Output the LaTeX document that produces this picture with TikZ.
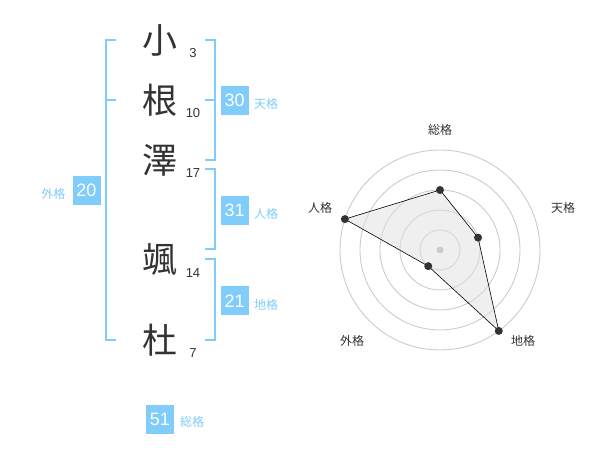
\documentclass[tikz,border=0pt]{standalone}
\usepackage{fontspec}
\usetikzlibrary{calc}
\setmainfont{Liberation Sans}
\newfontfamily\jp{Noto Sans CJK JP}
\definecolor{kblue}{RGB}{128,204,250}
\definecolor{ktext}{RGB}{51,51,51}
\definecolor{kring}{RGB}{204,204,204}
\tikzset{
  brk/.style={draw=kblue, line width=2pt},
  kanji/.style={font=\jp\fontsize{35}{35}\selectfont, text=ktext, inner sep=0},
  stroke/.style={font=\fontsize{13}{13}\selectfont, text=ktext, inner sep=0},
  vbox/.style={fill=kblue, text=white, minimum width=28pt, minimum height=29pt, inner sep=0, font=\fontsize{18}{18}\selectfont},
  vlab/.style={text=kblue, inner sep=0, font=\jp\fontsize{12}{12}\selectfont},
  ring/.style={draw=kring, line width=0.9pt},
  rlab/.style={text=ktext, inner sep=0, font=\jp\fontsize{12}{12}\selectfont},
  dot/.style={circle, fill=ktext, inner sep=0, minimum size=8pt},
}
\begin{document}
\begin{tikzpicture}[x=1pt, y=-1pt]
\path[use as bounding box, fill=white] (0,0) rectangle (600,470);
% name characters
\node[kanji] (c1) at (160,40) {小};
\node[kanji] (c2) at (160,100) {根};
\node[kanji] (c3) at (160,160) {澤};
\node[kanji] (c4) at (160,260) {颯};
\node[kanji] (c5) at (160,340) {杜};
\node[stroke] (s1) at (193,52.7) {3};
\node[stroke] (s2) at (193,112.7) {10};
\node[stroke] (s3) at (193,172.7) {17};
\node[stroke] (s4) at (193,272.7) {14};
\node[stroke] (s5) at (193,352.7) {7};
% brackets
\coordinate (la) at (116,40);
\coordinate (lb) at (106,40);
\coordinate (lc) at (106,340);
\coordinate (ld) at (116,340);
\coordinate (lm1) at (106,100);
\coordinate (lm2) at (116,100);
\draw[brk] (la) -- (lb) -- (lc) -- (ld);
\draw[brk] (lm1) -- (lm2);
\coordinate (ta) at (205,40);
\coordinate (tb) at (215,40);
\coordinate (tc) at (215,160);
\coordinate (td) at (205,160);
\coordinate (tm1) at (205,100);
\coordinate (tm2) at (215,100);
\draw[brk] (ta) -- (tb) -- (tc) -- (td);
\draw[brk] (tm1) -- (tm2);
\coordinate (ja) at (205,169.5);
\coordinate (jb) at (215,169.5);
\coordinate (jc) at (215,249.5);
\coordinate (jd) at (205,249.5);
\draw[brk] (ja) -- (jb) -- (jc) -- (jd);
\coordinate (ca) at (205,259.5);
\coordinate (cb) at (215,259.5);
\coordinate (cc) at (215,340);
\coordinate (cd) at (205,340);
\draw[brk] (ca) -- (cb) -- (cc) -- (cd);
% value boxes
\node[vbox] (v30) at (234.7,100.3) {30};
\node[vlab, anchor=west] (l30) at (254,104) {天格};
\node[vbox] (v31) at (234.7,210.5) {31};
\node[vlab, anchor=west] (l31) at (254,214) {人格};
\node[vbox] (v21) at (234.7,301) {21};
\node[vlab, anchor=west] (l21) at (254,304.5) {地格};
\node[vbox] (v20) at (86.5,190.5) {20};
\node[vlab, anchor=east] (l20) at (65.5,193.5) {外格};
\node[vbox] (v51) at (160,419) {51};
\node[vlab, anchor=west] (l51) at (180,422) {総格};
% radar
\coordinate (o) at (440,250);
\foreach \r in {20,40,60,80,100} \draw[ring] (o) circle (\r);
\coordinate (p1) at ($(o)+(-90:60)$);
\coordinate (p2) at ($(o)+(-18:40)$);
\coordinate (p3) at ($(o)+(54:100)$);
\coordinate (p4) at ($(o)+(126:20)$);
\coordinate (p5) at ($(o)+(198:100)$);
\fill[black!12, fill opacity=0.5] (p1) -- (p2) -- (p3) -- (p4) -- (p5) -- cycle;
\draw[black, line width=0.6pt] (p1) -- (p2) -- (p3) -- (p4) -- (p5) -- cycle;
\node[circle, fill=kring, inner sep=0, minimum size=7pt] (oc) at (o) {};
\foreach \p in {p1,p2,p3,p4,p5} \node[dot] at (\p) {};
\node[rlab] (r1) at (440,130) {総格};
\node[rlab] (r2) at (563,208) {天格};
\node[rlab] (r3) at (523,341) {地格};
\node[rlab] (r4) at (352,341) {外格};
\node[rlab] (r5) at (320,208) {人格};
\end{tikzpicture}
\end{document}
